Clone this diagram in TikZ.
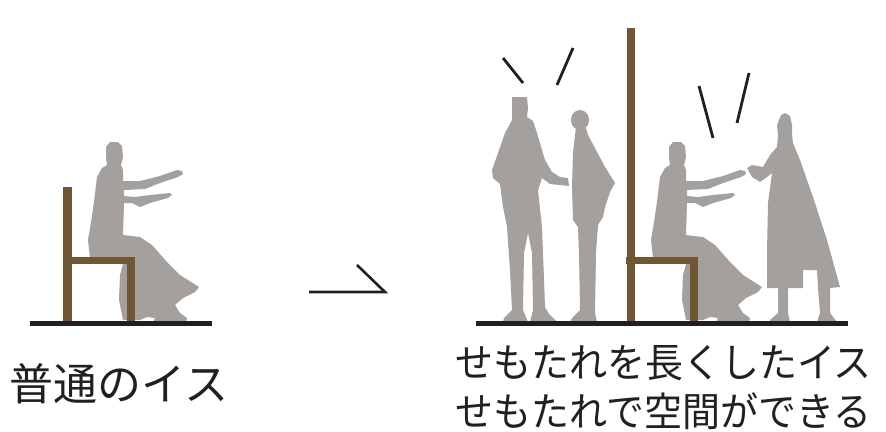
\documentclass[tikz,border=0pt]{standalone}
\usepackage{fontspec}
\newfontfamily\jpfont{Noto Sans CJK JP}
\definecolor{figgrey}{RGB}{163,160,158}
\definecolor{woodbrown}{RGB}{111,86,52}
\definecolor{inkblack}{RGB}{35,31,32}
\tikzset{
  silhouette/.style={fill=figgrey, draw=none},
  wood/.style={fill=woodbrown, draw=none},
  floorline/.style={draw=inkblack, line width=4.5pt},
  talkmark/.style={draw=inkblack, line width=2.8pt},
  caption/.style={inner sep=0pt, text=inkblack, font=\jpfont\fontsize{#1}{#1}\selectfont},
  seated/.pic={
    \fill[silhouette]
      (110,142) -- (118,142) -- (122,146) -- (123,157) -- (121,165) -- (123,170) -- (123,181)
      -- (140,181) -- (160,176) -- (177,170) -- (182,171) -- (183,174) -- (178,177) -- (160,183)
      -- (145,189) -- (124,190) -- (124,196) -- (135,197) -- (150,195) -- (170,193) -- (172,195)
      -- (168,198) -- (150,203) -- (140,207) -- (132,203) -- (124,203) -- (123,235) -- (140,237)
      -- (152,245) -- (167,262) -- (180,275) -- (199,287) -- (195,292) -- (183,298) -- (175,305)
      -- (180,313) -- (187,318) -- (186,322) -- (153,322) -- (155,318) -- (147,317) -- (140,320)
      -- (123,320) -- (119,300) -- (120,275) -- (123,264) -- (90,258) -- (88,240) -- (91,222)
      -- (94,202) -- (97,177) -- (102,168) -- (107,165) -- (106,158) -- (106,147) -- cycle;
  }
}
\begin{document}
\begin{tikzpicture}[x=1pt,y=-1pt]
\useasboundingbox (0,0) rectangle (886,431);

% ordinary chair with sitting person
\pic at (0,0) {seated};
\fill[wood] (63,187) rectangle (72,323);
\fill[wood] (63,257) rectangle (135,264);
\fill[wood] (127,257) rectangle (135,323);
\coordinate (floorAw) at (30,323.5);
\coordinate (floorAe) at (212,323.5);
\draw[floorline] (floorAw) -- (floorAe);

% arrow between the two scenes
\coordinate (arrowtail) at (309,292);
\coordinate (arrowtip) at (385,292);
\coordinate (arrowbarb) at (357,265);
\draw[talkmark, line width=2.6pt, miter limit=10] (arrowtail) -- (arrowtip) -- (arrowbarb);

% standing man
\fill[silhouette]
  (512,97) -- (527,97) -- (528,108) -- (527,117) -- (533,121) -- (537,133) -- (545,160)
  -- (552,172) -- (560,177) -- (568,178) -- (569,186) -- (550,184) -- (542,178) -- (538,190)
  -- (542,227) -- (543,253) -- (545,307) -- (549,314) -- (557,322) -- (530,322) -- (533,310)
  -- (532,253) -- (528,233) -- (524,253) -- (523,310) -- (528,322) -- (503,322) -- (504,318)
  -- (512,310) -- (510,270) -- (507,227) -- (503,207) -- (500,184) -- (493,178) -- (492,170)
  -- (498,153) -- (505,133) -- (512,120) -- cycle;

% standing woman in a cape
\fill[silhouette] (580,120) ellipse[x radius=9, y radius=10];
\fill[silhouette]
  (576,128) -- (586,128) -- (588,135) -- (596,150) -- (605,167) -- (615,183) -- (610,192)
  -- (605,207) -- (603,217) -- (598,225) -- (596,253) -- (595,313) -- (597,322) -- (570,322)
  -- (572,318) -- (580,310) -- (579,253) -- (578,227) -- (573,220) -- (572,187) -- (573,153)
  -- (575,135) -- cycle;

% tall-backed chair with sitting person
\pic at (563,0) {seated};
\fill[wood] (627,28) rectangle (635,323);
\fill[wood] (626,257) rectangle (698,264);
\fill[wood] (690,257) rectangle (698,323);

% standing person reaching out
\fill[silhouette]
  (785,113) -- (790,116) -- (792,125) -- (792,135) -- (793,143) -- (800,160) -- (813,197)
  -- (827,240) -- (840,287) -- (830,288) -- (830,313) -- (837,322) -- (817,322) -- (820,313)
  -- (818,288) -- (817,270) -- (803,270) -- (803,288) -- (788,288) -- (788,313) -- (790,322)
  -- (770,322) -- (770,320) -- (778,313) -- (778,288) -- (767,288) -- (767,253) -- (768,203)
  -- (772,173) -- (767,177) -- (760,182) -- (752,177) -- (747,168) -- (752,165) -- (763,167)
  -- (770,155) -- (777,147) -- (778,135) -- (777,125) -- (781,115) -- cycle;

\coordinate (floorBw) at (476,323.5);
\coordinate (floorBe) at (848,323.5);
\draw[floorline] (floorBw) -- (floorBe);

% conversation marks
\coordinate (markAa) at (503,58);  \coordinate (markAb) at (523,83);
\coordinate (markBa) at (573,48);  \coordinate (markBb) at (557,85);
\coordinate (markCa) at (699,86);  \coordinate (markCb) at (713,138);
\coordinate (markDa) at (749,73);  \coordinate (markDb) at (737,123);
\draw[talkmark] (markAa) -- (markAb);
\draw[talkmark] (markBa) -- (markBb);
\draw[talkmark] (markCa) -- (markCb);
\draw[talkmark] (markDa) -- (markDb);

% captions
\node[caption=44] (capA) at (119,384) {普通のイス};
\node[caption=40, xscale=0.95] (capB1) at (663.5,363) {せもたれを長くしたイス};
\node[caption=40, xscale=0.95] (capB2) at (663.5,411) {せもたれで空間ができる};
\end{tikzpicture}
\end{document}
